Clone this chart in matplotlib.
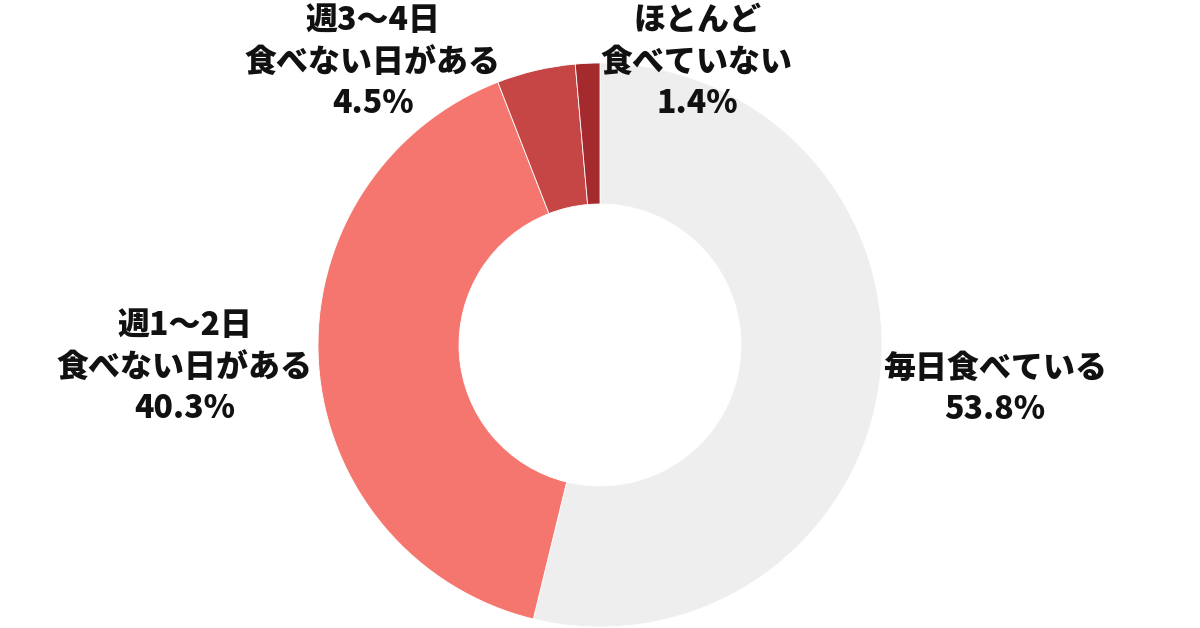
import matplotlib.pyplot as plt

plt.rcParams['font.family'] = ['Noto Sans CJK JP', 'DejaVu Sans']

categories = ["毎日食べている", "週1〜2日\n食べない日がある", "週3〜4日\n食べない日がある", "ほとんど\n食べていない"]
values = [53.8, 40.3, 4.5, 1.4]
colors = ["#EEEEEE", "#F4766E", "#C64646", "#A52A2E"]

W, H = 1200, 628
# label centres in pixel coords (y from top)
label_pos = [(995, 389), (185, 367), (373, 62), (697, 62)]

fig = plt.figure(figsize=(12, 6.28), dpi=100)
ax = fig.add_axes([0, 0, 1, 1])

cx, cy, r = 600, H - 345, 282
ax.pie(values, colors=colors, startangle=90, counterclock=False,
       center=(cx, cy), radius=r, frame=True,
       wedgeprops=dict(width=r * 0.5, edgecolor="white", linewidth=0.6))
ax.set_xlim(0, W)
ax.set_ylim(0, H)
ax.set_aspect("equal")
ax.axis("off")

for cat, v, (x, y) in zip(categories, values, label_pos):
    ax.text(x, H - y, f"{cat}\n{v}%", ha="center", va="center",
            fontsize=23, fontweight="black", linespacing=1.3, color="#111111")

fig.savefig("out.png", dpi=100)
